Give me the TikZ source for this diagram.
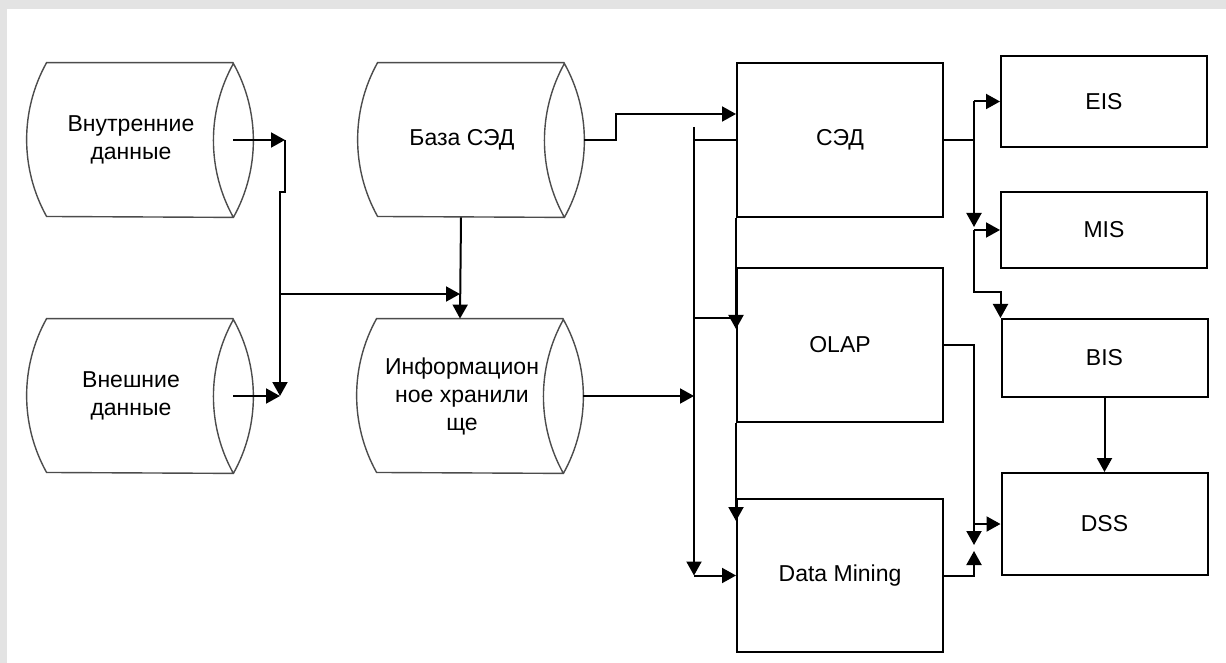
\documentclass[tikz,border=0pt]{standalone}
\usepackage{fontspec}
\setmainfont{Liberation Sans}
\usetikzlibrary{arrows.meta}

\tikzset{
  box/.style={draw, line width=1pt, minimum width=103pt, inner sep=0pt,
    font=\fontsize{11.5}{14}\selectfont},
  cylbody/.style={minimum width=93pt, minimum height=77pt, inner sep=0pt},
  cylline/.style={draw=black!70, line width=0.7pt},
  cyltext/.style={align=center, inner sep=0pt, font=\fontsize{11.5}{14}\selectfont},
  wire/.style={line width=1pt},
  arr/.style={line width=1pt, -{Triangle[length=7pt,width=7.5pt]}},
}

\begin{document}
\begin{tikzpicture}[x=0.5pt, y=-0.5pt]
        \useasboundingbox (0,0) rectangle (1226,663);
        \fill[gray!22] (0,0) rectangle (1226,663);
        \fill[white] (7,9) rectangle (1226,663);
        % ── хранилища (цилиндры) ─────────────────────────────
        \node[cylbody] (vnutr) at (140,140) {};
        \node[cylbody] (vnesh) at (140,396) {};
        \node[cylbody] (bazased) at (471,140) {};
        \node[cylbody] (hran) at (470,396) {};
        \foreach \c in {vnutr,vnesh,bazased,hran} {
            \draw[cylline] (\c.north east) -- (\c.north west)
                arc[start angle=150.9, end angle=209.1, radius=79.1pt]
                -- (\c.south east)
                arc[start angle=-29.1, end angle=29.1, radius=79.1pt]
                arc[start angle=150.9, end angle=209.1, radius=79.1pt];
        }
        \node[cyltext] (vnutr-t) at ([xshift=-4.5pt]vnutr.center) {Внутренние\\данные};
        \node[cyltext] (vnesh-t) at ([xshift=-4.5pt]vnesh.center) {Внешние\\данные};
        \node[cyltext] (bazased-t) at ([xshift=-4.5pt]bazased.center) {База СЭД};
        \node[cyltext] (hran-t) at ([xshift=-4pt]hran.center) {Информацион\\ное хранили\\ще};
        % ── блоки ────────────────────────────────────────────
        \node[box, minimum height=77pt] (sed) at (840,140) {СЭД};
        \node[box, minimum height=77pt] (olap) at (840,345) {OLAP};
        \node[box, minimum height=76.5pt] (dm) at (840,575.5) {Data Mining};
        \node[box, minimum height=45.5pt] (eis) at (1104,101.5) {EIS};
        \node[box, minimum height=38pt] (mis) at (1104,230) {MIS};
        \node[box, minimum height=39pt] (bis) at (1104.5,358) {BIS};
        \node[box, minimum height=51pt] (dss) at (1104.5,524) {DSS};
        % источники -> сбор
        \coordinate (jin) at (285,140);
        \coordinate (jex) at (280,396);
        \coordinate (jmid) at (280,294);
        \coordinate (hin) at ([xshift=-5pt]hran.north);
        \draw[arr] (vnutr.east) -- (jin);
        \draw[arr] (jin) -- ++(0,52) -| (jex);
        \draw[arr] (vnesh.east) -- (jex);
        \draw[arr] ([xshift=-5pt]bazased.south) -- (hin);
        \draw[arr] (jmid) -- (jmid -| hin);
        \draw[arr] ([xshift=10pt]bazased.east) -- ++(32,0) |- ([yshift=13pt]sed.west);
        % общая шина
        \coordinate (bustop) at (694,127);
        \coordinate (busbot) at (694,575.5);
        \coordinate (olapin) at ([yshift=-25.5pt]olap.north west);
        \draw[arr] ([xshift=10pt]hran.east) -- (hran.east -| bustop);
        \draw[arr] (bustop) -- (busbot);
        \draw[arr] (busbot) -- (dm.west);
        \draw[wire] (bustop |- sed.west) -- (sed.west);
        \draw[wire] (bustop |- olapin) -- (olapin);
        \draw[arr] (sed.south west) -- ([yshift=-31pt]olap.north west);
        \draw[arr] (olap.south west) -- ([yshift=-11.5pt]dm.north west);
        % выходы направо
        \coordinate (rb) at (974,101.5);
        \coordinate (dj) at (974,524);
        \draw[wire] (sed.east) -- (sed.east -| rb);
        \draw[arr] (rb) -- (eis.west);
        \draw[arr] (rb) -- ([yshift=1.5pt]rb |- mis.west);
        \draw[arr] (rb |- mis.west) -- (mis.west);
        \draw[arr] (rb |- mis.west) -- ++(0,62) -| (bis.north west);
        \draw[arr] (bis.south) -- (dss.north);
        \draw[arr] (olap.east) -| ([yshift=-10.5pt]dj);
        \draw[arr] (dj) -- (dss.west);
        \draw[arr] (dm.east) -| ([yshift=-13.5pt]dj);
\end{tikzpicture}
\end{document}
